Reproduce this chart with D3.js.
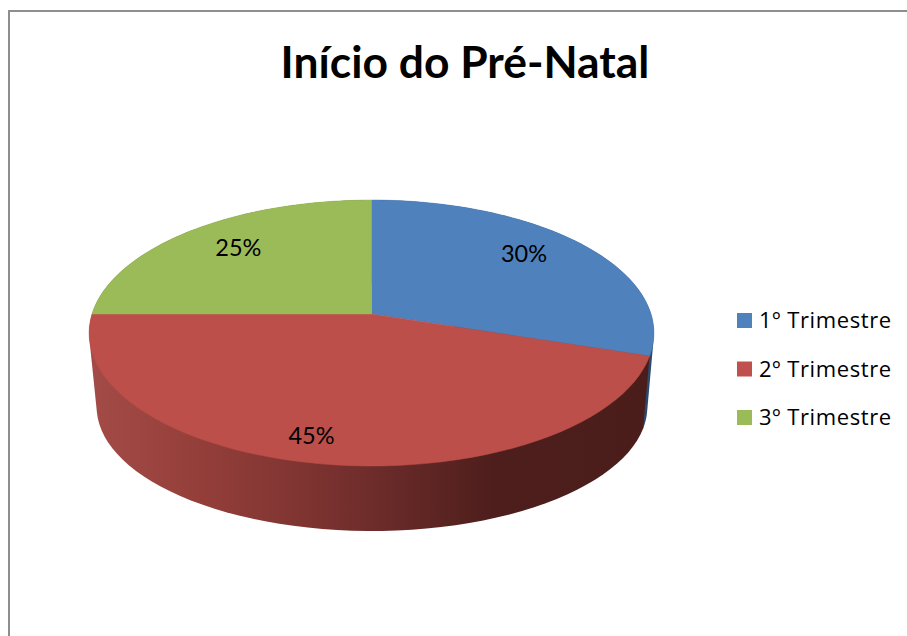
<!DOCTYPE html>
<html>
<head>
<meta charset="utf-8">
<script src="https://cdn.jsdelivr.net/npm/d3@7"></script>
<style>
  html, body { margin: 0; padding: 0; background: #fff; overflow: hidden; }
  text { font-family: Lato, "Open Sans", sans-serif; fill: #000; }
  .legend text { font-family: "Open Sans", sans-serif; letter-spacing: 0.6px; }
</style>
</head>
<body>
<div id="chart"></div>
<script>
var categories = ['1º Trimestre', '2º Trimestre', '3º Trimestre'];
var percents = [30, 45, 25];
var colors = ['#4f81bd', '#bd4f4b', '#9bbb59'];
var legendColors = ['#4f81bd', '#c0504d', '#9bbb59'];

var width = 907, height = 636;

var svg = d3.select('#chart')
    .append('svg')
    .attr('width', width)
    .attr('height', height)
    .style('display', 'block');

// chart frame, runs off the right and bottom of the picture
svg.append('path')
    .attr('d', 'M9,' + height + 'V11H' + width)
    .attr('fill', 'none')
    .attr('stroke', '#8e8e8e')
    .attr('stroke-width', 2);

// the disc in perspective: top edge, bottom edge, radius at the pie centre
var topFace = { cx: 371.5, radius: 279.5, top: 200, bottom: 466 };
var baseFace = { cx: 372, radius: 272.5, top: 283, bottom: 531 };

// perspective strength, the near side of the disc comes out bigger
var tilt = -0.1429;
var centreShare = 0.4286;

function project(face, angle, r) {
    var u = r * Math.sin(angle),
        v = -r * Math.cos(angle),
        w = 1 + tilt * v,
        centreY = face.top + (face.bottom - face.top) * centreShare,
        a = face.bottom * (1 + tilt) - centreY;
    return [face.cx + face.radius * u / w, (a * v + centreY) / w];
}

function arcPoints(face, d) {
    return d3.range(0, 61).map(function (i) {
        return project(face, d.startAngle + (d.endAngle - d.startAngle) * i / 60, 1);
    });
}

var pie = d3.pie().sort(null).value(function (d) { return d; });
var slices = pie(percents);
var line = d3.line();

// side wall shading, one gradient per slice
var defs = svg.append('defs');
var wallStops = [
    [[0, '#2c4a6e'], [1, '#2c4a6e']],
    [[0, '#a34b47'], [0.2, '#943e3a'], [0.4, '#7c3330'], [0.55, '#662927'], [0.72, '#4d1e1c'], [1, '#4a1d1b']],
    [[0, '#5b7033'], [1, '#5b7033']]
];
wallStops.forEach(function (stops, i) {
    var grad = defs.append('linearGradient')
        .attr('id', 'wall' + i)
        .attr('gradientUnits', 'userSpaceOnUse')
        .attr('x1', 90).attr('x2', 653)
        .attr('y1', 0).attr('y2', 0);
    stops.forEach(function (s) {
        grad.append('stop').attr('offset', s[0]).attr('stop-color', s[1]);
    });
});

// walls first, back to front, red last; top faces cover the rest
[2, 0, 1].forEach(function (i) {
    var pts = arcPoints(topFace, slices[i]).concat(arcPoints(baseFace, slices[i]));
    svg.append('path')
        .attr('d', line(d3.polygonHull(pts)) + 'Z')
        .attr('fill', 'url(#wall' + i + ')');
});

svg.selectAll('.slice')
    .data(slices)
    .enter().append('path')
    .attr('class', 'slice')
    .attr('fill', function (d, i) { return colors[i]; })
    .attr('stroke', function (d, i) { return colors[i]; })
    .attr('stroke-width', 0.5)
    .attr('d', function (d) {
        return line([project(topFace, 0, 0)].concat(arcPoints(topFace, d))) + 'Z';
    });

// labels sit at 70% of the radius, nudged by hand like the original
var labelNudge = [[3, -9], [-26, 22], [-4, -6]];
svg.selectAll('.label')
    .data(slices)
    .enter().append('text')
    .attr('class', 'label')
    .attr('text-anchor', 'middle')
    .attr('font-size', 23.5)
    .attr('transform', function (d, i) {
        var p = project(topFace, (d.startAngle + d.endAngle) / 2, 0.7);
        return 'translate(' + (p[0] + labelNudge[i][0]) + ',' + (p[1] + labelNudge[i][1] + 8) + ')';
    })
    .text(function (d) { return d.data + '%'; });

// title
svg.append('text')
    .attr('x', 465)
    .attr('y', 78)
    .attr('text-anchor', 'middle')
    .attr('font-size', 44.4)
    .attr('font-weight', 700)
    .text('Início do Pré-Natal');

// legend
var legendY = d3.scalePoint().domain(categories).range([320.5, 417.5]);
var legend = svg.selectAll('.legend')
    .data(categories)
    .enter().append('g')
    .attr('class', 'legend')
    .attr('transform', function (d) { return 'translate(737,' + legendY(d) + ')'; });

legend.append('rect')
    .attr('y', -7.5)
    .attr('width', 15)
    .attr('height', 15)
    .attr('fill', function (d, i) { return legendColors[i]; });

legend.append('text')
    .attr('x', 22)
    .attr('y', 7.5)
    .attr('font-size', 22)
    .text(function (d) { return d; });
</script>
</body>
</html>
